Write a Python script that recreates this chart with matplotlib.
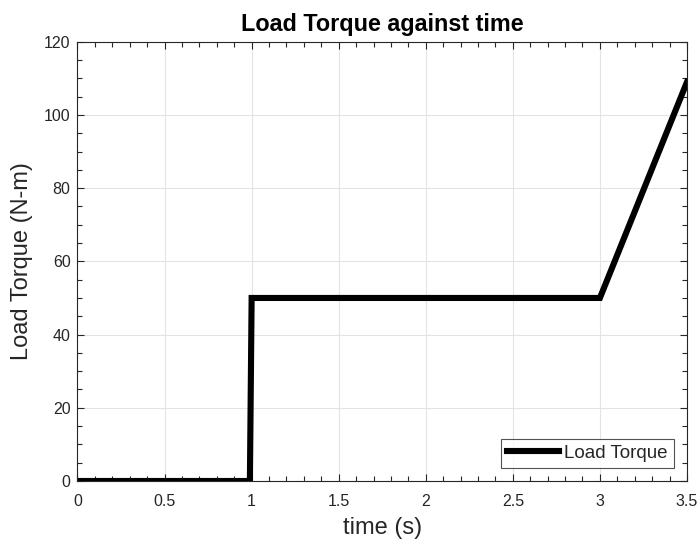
import matplotlib
matplotlib.use("Agg")
import matplotlib.pyplot as plt
from matplotlib.ticker import MultipleLocator

# Load torque profile: zero, step to 50 N-m at 1 s, hold, then ramp after 3 s
time_s = [0.0, 0.99, 1.0, 3.0, 3.5]
torque_nm = [0.0, 0.0, 50.0, 50.0, 109.0]

x_ticks = [0, 0.5, 1, 1.5, 2, 2.5, 3, 3.5]
x_tick_labels = ["0", "0.5", "1", "1.5", "2", "2.5", "3", "3.5"]
y_ticks = [0, 20, 40, 60, 80, 100, 120]

plt.rcParams["font.family"] = ["Liberation Sans", "DejaVu Sans"]
axis_color = "#262626"

fig = plt.figure(figsize=(7.0, 5.41), dpi=100)
ax = fig.add_axes([0.1107, 0.1109, 0.8707, 0.812])

ax.plot(time_s, torque_nm, color="black", linewidth=4.4,
        solid_joinstyle="miter", label="Load Torque")

ax.set_xlim(0, 3.5)
ax.set_ylim(0, 120)
ax.set_xticks(x_ticks)
ax.set_xticklabels(x_tick_labels)
ax.set_yticks(y_ticks)
ax.xaxis.set_minor_locator(MultipleLocator(0.1))
ax.yaxis.set_minor_locator(MultipleLocator(5))

ax.tick_params(which="both", direction="in", top=True, right=True,
               colors=axis_color, labelcolor=axis_color, width=0.8)
ax.tick_params(which="major", length=5, labelsize=11.5)
ax.tick_params(which="minor", length=3.5)
ax.tick_params(axis="x", which="major", pad=9)
ax.tick_params(axis="y", which="major", pad=5)
for side in ax.spines.values():
    side.set_color(axis_color)
    side.set_linewidth(0.8)

ax.grid(True, which="major", color="#e3e3e3", linewidth=0.8)
ax.set_axisbelow(True)

ax.set_title("Load Torque against time", fontsize=16.8, fontweight="bold",
             color="black", pad=8)
ax.set_xlabel("time (s)", fontsize=17, color=axis_color, labelpad=6)
ax.set_ylabel("Load Torque (N-m)", fontsize=17, color=axis_color, labelpad=8)

leg = ax.legend(loc="lower right", fontsize=13.5, frameon=True, fancybox=False,
                borderaxespad=0.7, handlelength=2.75, handletextpad=0.3,
                borderpad=0.32)
leg.get_frame().set_edgecolor(axis_color)
leg.get_frame().set_linewidth(0.8)
for t in leg.get_texts():
    t.set_color(axis_color)

fig.savefig("out.png", dpi=100)
